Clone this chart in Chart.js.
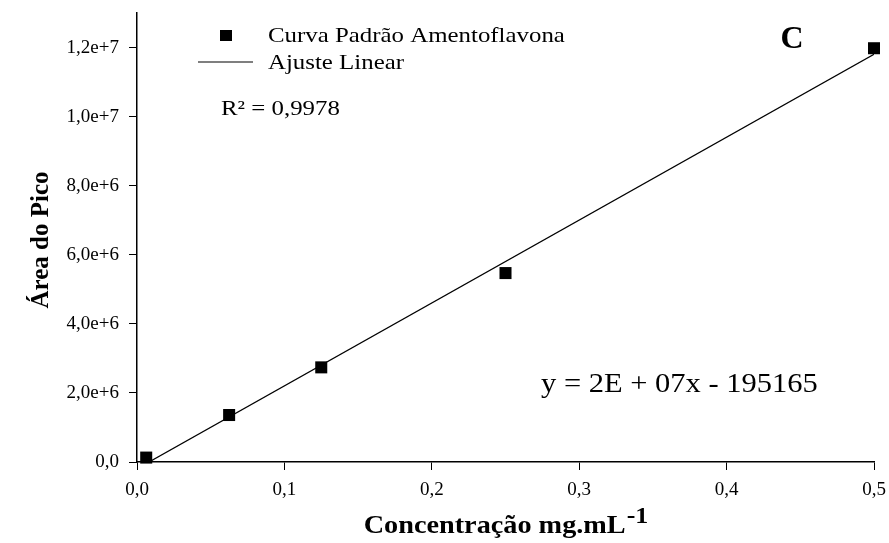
<!DOCTYPE html>
<html>
<head>
<meta charset="utf-8">
<script src="https://cdn.jsdelivr.net/npm/chart.js@4"></script>
<style>
  html, body { margin: 0; padding: 0; background: #fff; }
  #wrap { width: 889px; height: 543px; }
</style>
</head>
<body>
<div id="wrap"><canvas id="curvaChart" width="889" height="543"></canvas></div>
<script>
// Curva padrão de amentoflavona (HPLC)
const concentracoes = [0.00625, 0.0625, 0.125, 0.25, 0.5];
const areas = [128000, 1360000, 2740000, 5470000, 11980000];

// coeficientes do ajuste linear
const inclinacao = 24000000;
const intercepto = -195165;
const r2Texto = 'R² = 0,9978';
const equacaoTexto = 'y = 2E + 07x - 195165';

const xTicks = [0, 0.1, 0.2, 0.3, 0.4, 0.5];
const xTickLabels = ['0,0', '0,1', '0,2', '0,3', '0,4', '0,5'];
const yTicks = [0, 2e6, 4e6, 6e6, 8e6, 1e7, 1.2e7];
const yTickLabels = ['0,0', '2,0e+6', '4,0e+6', '6,0e+6', '8,0e+6', '1,0e+7', '1,2e+7'];

const serie1 = 'Curva Padrão Amentoflavona';
const serie2 = 'Ajuste Linear';

// reta do ajuste: do ponto onde y = 0 até a maior concentração
const xInicio = -intercepto / inclinacao;
const xFim = concentracoes[concentracoes.length - 1];
const reta = [xInicio, xFim].map(x => ({ x: x, y: inclinacao * x + intercepto }));

const pontos = concentracoes.map((c, i) => ({ x: c, y: areas[i] }));

const SERIF = '"Liberation Serif", "Times New Roman", serif';
const ESTICA = 1.13; // fonte um pouco mais larga

// escreve texto alargado na horizontal
function textoLargo(ctx, txt, x, y, sx) {
    ctx.save();
    ctx.translate(x, y);
    ctx.scale(sx, 1);
    ctx.fillText(txt, 0, 0);
    ctx.restore();
}

// textos extras: legenda, R², letra do painel, equação e títulos dos eixos
const textosPlugin = {
    id: 'textosPlugin',
    afterDraw(chart) {
        const ctx = chart.ctx;
        const area = chart.chartArea;
        ctx.save();
        ctx.fillStyle = '#000';
        ctx.strokeStyle = '#000';
        ctx.textAlign = 'left';
        ctx.textBaseline = 'alphabetic';

        // legenda
        ctx.fillRect(220, 30, 12, 11);
        ctx.font = '22px ' + SERIF;
        textoLargo(ctx, serie1, 268, 42, ESTICA);
        ctx.lineWidth = 1.2;
        ctx.beginPath();
        ctx.moveTo(198, 62);
        ctx.lineTo(253, 62);
        ctx.stroke();
        textoLargo(ctx, serie2, 268, 69, ESTICA);

        textoLargo(ctx, r2Texto, 221, 115, ESTICA);

        // letra do painel
        ctx.font = 'bold 32px ' + SERIF;
        ctx.textAlign = 'center';
        ctx.fillText('C', 792, 48);
        ctx.textAlign = 'left';

        // equação
        ctx.font = '27px ' + SERIF;
        textoLargo(ctx, equacaoTexto, 541, 392, ESTICA);

        // título do eixo x com expoente
        ctx.font = 'bold 25px ' + SERIF;
        const tx = 'Concentração mg.mL';
        const wx = ctx.measureText(tx).width * ESTICA;
        ctx.font = 'bold 23px ' + SERIF;
        const sup = '-1';
        const ws = ctx.measureText(sup).width * ESTICA;
        const cx = (area.left + area.right) / 2;
        const x0 = cx - (wx + ws) / 2;
        ctx.font = 'bold 25px ' + SERIF;
        textoLargo(ctx, tx, x0, 533, ESTICA);
        ctx.font = 'bold 23px ' + SERIF;
        textoLargo(ctx, sup, x0 + wx + 1, 523, ESTICA);

        // título do eixo y
        ctx.translate(48, 240);
        ctx.rotate(-Math.PI / 2);
        ctx.font = 'bold 25px ' + SERIF;
        ctx.textAlign = 'center';
        ctx.fillText('Área do Pico', 0, 0);
        ctx.restore();
    }
};

new Chart(document.getElementById('curvaChart').getContext('2d'), {
    type: 'scatter',
    data: {
        datasets: [{
            label: serie1,
            data: pontos,
            pointStyle: 'rect',
            pointRadius: 8.5,
            pointHoverRadius: 8.5,
            backgroundColor: '#000',
            borderColor: '#000',
            borderWidth: 0,
            clip: 12
        }, {
            label: serie2,
            data: reta,
            showLine: true,
            pointRadius: 0,
            borderColor: '#000',
            borderWidth: 1.3,
            fill: false
        }]
    },
    options: {
        responsive: false,
        animation: false,
        events: [],
        layout: { padding: { top: 13, right: 15, left: 0, bottom: 0 } },
        plugins: {
            legend: { display: false },
            tooltip: { enabled: false }
        },
        scales: {
            x: {
                type: 'linear',
                min: 0,
                max: 0.5,
                afterBuildTicks: s => { s.ticks = xTicks.map(v => ({ value: v })); },
                afterFit: s => { s.height = 81; s.paddingLeft = 0; s.paddingRight = 0; },
                border: { display: true, color: '#000', width: 1.5 },
                grid: { drawOnChartArea: false, drawTicks: true, tickLength: 8, color: '#000', lineWidth: 1 },
                ticks: {
                    padding: 9,
                    color: '#000',
                    maxRotation: 0,
                    font: { family: SERIF, size: 19 },
                    callback: (v) => xTickLabels[xTicks.findIndex(t => Math.abs(t - v) < 1e-9)]
                }
            },
            y: {
                type: 'linear',
                min: 0,
                max: 1.3e7,
                afterBuildTicks: s => { s.ticks = yTicks.map(v => ({ value: v })); },
                afterFit: s => { s.width = 137; s.paddingTop = 0; s.paddingBottom = 0; },
                border: { display: true, color: '#000', width: 1.5 },
                grid: { drawOnChartArea: false, drawTicks: true, tickLength: 8, color: '#000', lineWidth: 1 },
                ticks: {
                    padding: 10,
                    color: '#000',
                    font: { family: SERIF, size: 19 },
                    callback: (v) => yTickLabels[yTicks.findIndex(t => Math.abs(t - v) < 1)]
                }
            }
        }
    },
    plugins: [textosPlugin]
});
</script>
</body>
</html>
